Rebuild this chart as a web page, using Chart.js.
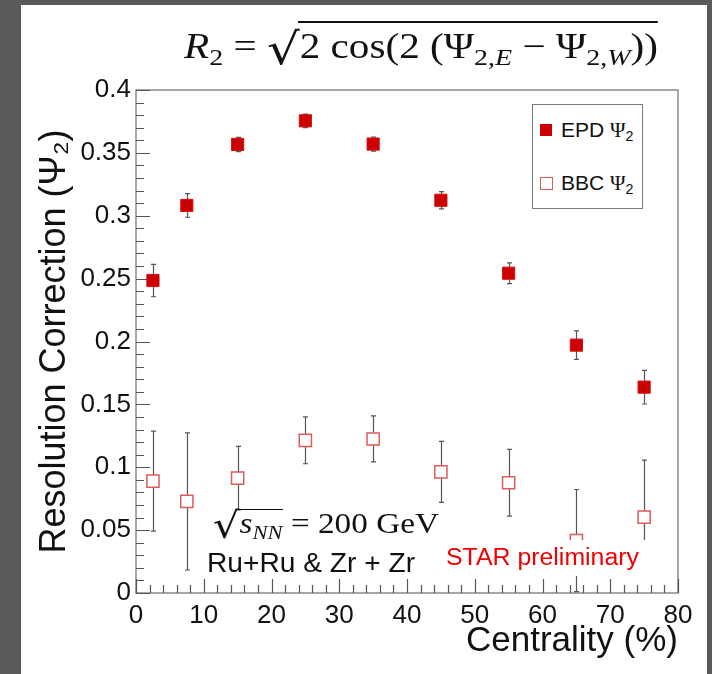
<!DOCTYPE html>
<html>
<head>
<meta charset="utf-8">
<script src="https://cdn.jsdelivr.net/npm/chart.js@4/dist/chart.umd.min.js"></script>
<style>
  html, body { margin:0; padding:0; width:712px; height:674px; overflow:hidden; background:#595959; }
  #page { position:absolute; left:21px; top:5px; width:686px; height:669px; background:#fff; }
  #c { position:absolute; left:0; top:0; }
  .txt { position:absolute; white-space:nowrap; color:#111; }
  .serif { font-family:"Liberation Serif","DejaVu Serif",serif; }
  .sans { font-family:"Liberation Sans",Arial,sans-serif; }
  sub { font-size:0.68em; line-height:0; vertical-align:-0.28em; }
  .ov { position:relative; }
  .ov .bar { position:absolute; left:-1px; right:0; border-top:2px solid #111; }
  .rad { font-family:"DejaVu Sans",sans-serif; font-size:1.25em; line-height:0; vertical-align:-0.14em; }
  #legend { position:absolute; left:532px; top:104px; width:109px; height:103px; border:1px solid #7a7a7a; background:#fff; }
  .mk { position:absolute; width:12px; height:12px; }
  #starbox { position:absolute; left:440px; top:540px; width:210px; height:36px; background:#fff; }
</style>
</head>
<body>
<div id="page"></div>
<canvas id="c" width="712" height="674"></canvas>

<div id="formula" class="txt serif" style="left:184px; top:29px; font-size:35px; line-height:35px;"><i>R</i><sub>2</sub> = <span class="rad">√</span><span class="ov"><span class="bar" style="top:-6px"></span>2 cos(2 (Ψ<sub>2,<i>E</i></sub> − Ψ<sub>2,<i>W</i></sub>))</span></div>

<div id="legend">
  <div class="mk" style="left:7px; top:19px; background:#cc0000;"></div>
  <div class="txt sans" style="left:28px; top:14px; font-size:21px; line-height:21px;">EPD <span class="serif">Ψ</span><sub>2</sub></div>
  <div class="mk" style="left:7px; top:72px; background:#fff; border:1px solid #e05a5a; width:11px; height:11px;"></div>
  <div class="txt sans" style="left:28px; top:67px; font-size:21px; line-height:21px;">BBC <span class="serif">Ψ</span><sub>2</sub></div>
</div>

<div id="energy" class="txt serif" style="left:213px; top:509px; font-size:29px; line-height:29px;"><span class="rad">√</span><span class="ov"><span class="bar" style="top:2px; border-top-width:1.5px"></span><i>s</i><sub><i>NN</i></sub></span> = 200 GeV</div>
<div id="system" class="txt sans" style="left:207px; top:550px; font-size:27px; line-height:27px;">Ru+Ru &amp; Zr + Zr</div>
<div id="starbox"></div>
<div id="star" class="txt sans" style="left:446px; top:546px; font-size:23px; line-height:23px; color:#f00000;">STAR preliminary</div>

<script>
// ---------------- data ----------------
const centrality = [2.5, 7.5, 15, 25, 35, 45, 55, 65, 75];
const epdValues  = [0.2485, 0.3082, 0.3567, 0.3755, 0.3570, 0.3123, 0.2543, 0.1971, 0.1637];
const epdErrors  = [0.0129, 0.0094, 0.0057, 0.0054, 0.0056, 0.0069, 0.0083, 0.0113, 0.0134];
const bbcValues  = [0.0890, 0.0728, 0.0913, 0.1214, 0.1225, 0.0963, 0.0877, 0.0417, 0.0604];
const bbcErrors  = [0.0398, 0.0545, 0.0253, 0.0186, 0.0183, 0.0243, 0.0265, 0.0406, 0.0453];
const xTickLabels = ['0','10','20','30','40','50','60','70','80'];
const yTickLabels = ['0','0.05','0.1','0.15','0.2','0.25','0.3','0.35','0.4'];

// fit text widths
function fitWidth(id, w) {
  const el = document.getElementById(id);
  const r = el.getBoundingClientRect().width;
  el.style.transformOrigin = 'left top';
  el.style.transform = 'scaleX(' + (w / r) + ')';
}
fitWidth('formula', 474);
fitWidth('energy', 226);
fitWidth('system', 208);
fitWidth('star', 193);

const rootPlugin = {
  id: 'rootFrame',
  beforeDatasetsDraw(chart) {
    const ctx = chart.ctx, a = chart.chartArea;
    const xs = chart.scales.x, ys = chart.scales.y;
    ctx.save();
    // frame
    ctx.strokeStyle = '#8a8a8a';
    ctx.lineWidth = 1.5;
    ctx.strokeRect(a.left, a.top, a.right - a.left, a.bottom - a.top);
    // ticks
    ctx.strokeStyle = '#555';
    ctx.lineWidth = 1.2;
    ctx.beginPath();
    for (let i = 0; i <= 40; i++) {
      const v = i * 0.01;
      const y = Math.round(ys.getPixelForValue(v)) + 0.5;
      const len = (i % 5 === 0) ? 14 : 8;
      ctx.moveTo(a.left, y); ctx.lineTo(a.left + len, y);
    }
    for (let i = 0; i <= 40; i++) {
      const v = i * 2;
      const x = Math.round(xs.getPixelForValue(v)) + 0.5;
      const len = (i % 5 === 0) ? 14 : 8;
      ctx.moveTo(x, a.bottom); ctx.lineTo(x, a.bottom - len);
    }
    ctx.stroke();
    // error bars
    ctx.strokeStyle = '#555';
    ctx.lineWidth = 1.2;
    const sets = [[epdValues, epdErrors], [bbcValues, bbcErrors]];
    ctx.beginPath();
    sets.forEach(([vals, errs]) => {
      vals.forEach((v, i) => {
        const x = Math.round(xs.getPixelForValue(centrality[i])) + 0.5;
        const y1 = ys.getPixelForValue(v + errs[i]);
        const y2 = ys.getPixelForValue(v - errs[i]);
        ctx.moveTo(x, y1); ctx.lineTo(x, y2);
        ctx.moveTo(x - 2.5, y1); ctx.lineTo(x + 2.5, y1);
        ctx.moveTo(x - 2.5, y2); ctx.lineTo(x + 2.5, y2);
      });
    });
    ctx.stroke();
    ctx.restore();
  }
};

new Chart(document.getElementById('c'), {
  type: 'scatter',
  data: {
    datasets: [
      {
        label: 'EPD Ψ2',
        data: centrality.map((c, i) => ({ x: c, y: epdValues[i] })),
        pointStyle: 'rect',
        pointRadius: 8.6,
        backgroundColor: '#cc0000',
        borderColor: '#d41010',
        borderWidth: 1
      },
      {
        label: 'BBC Ψ2',
        data: centrality.map((c, i) => ({ x: c, y: bbcValues[i] })),
        pointStyle: 'rect',
        pointRadius: 8.6,
        backgroundColor: '#ffffff',
        borderColor: '#e05a5a',
        borderWidth: 1.5
      }
    ]
  },
  options: {
    responsive: false,
    animation: false,
    devicePixelRatio: 1,
    layout: { padding: { left: 0, right: 34, top: 90, bottom: 0 } },
    plugins: { legend: { display: false }, tooltip: { enabled: false } },
    scales: {
      x: {
        type: 'linear', min: 0, max: 80,
        grid: { display: false, drawTicks: false },
        border: { display: false },
        ticks: {
          stepSize: 10, padding: 7, color: '#111',
          font: { family: '"Liberation Sans", Arial, sans-serif', size: 26 },
          callback: (v) => xTickLabels[Math.round(v / 10)]
        },
        title: {
          display: true, text: 'Centrality (%)', align: 'end', color: '#111',
          font: { family: '"Liberation Sans", Arial, sans-serif', size: 35 },
          padding: { top: 0, bottom: 12 }
        },
        afterFit: (s) => { s.height = 81; }
      },
      y: {
        type: 'linear', min: 0, max: 0.4,
        grid: { display: false, drawTicks: false },
        border: { display: false },
        ticks: {
          stepSize: 0.05, padding: 5, color: '#111',
          font: { family: '"Liberation Sans", Arial, sans-serif', size: 26 },
          callback: (v) => yTickLabels[Math.round(v / 0.05)]
        },
        title: {
          display: true, text: 'Resolution Correction (Ψ₂)', color: '#111',
          font: { family: '"Liberation Sans", Arial, sans-serif', size: 36 },
          padding: { top: 33, bottom: 0 }
        },
        afterFit: (s) => { s.width = 136; }
      }
    }
  },
  plugins: [rootPlugin]
});
</script>
</body>
</html>
